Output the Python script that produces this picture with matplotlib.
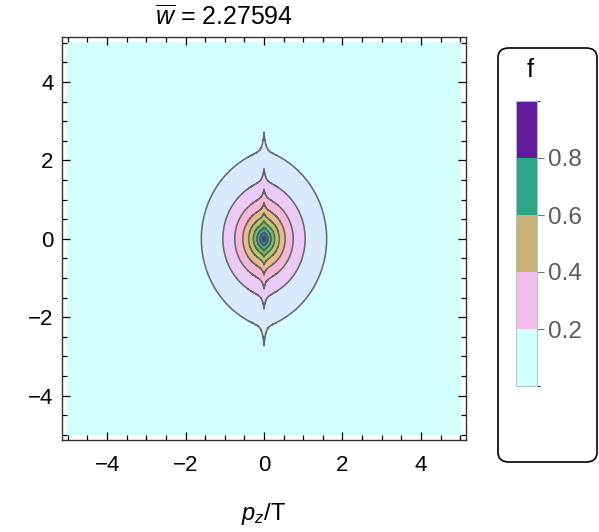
import numpy as np
import matplotlib
matplotlib.use("Agg")
import matplotlib.pyplot as plt
from matplotlib.colors import ListedColormap, BoundaryNorm
from matplotlib.patches import FancyBboxPatch
from matplotlib.ticker import MultipleLocator

plt.rcParams["font.family"] = ["Liberation Sans", "DejaVu Sans"]
plt.rcParams["mathtext.fontset"] = "custom"
plt.rcParams["mathtext.rm"] = "Liberation Sans"
plt.rcParams["mathtext.it"] = "Liberation Sans:italic"

# contour levels and fill colours of the plot
levels = [0.0, 0.1, 0.2, 0.3, 0.4, 0.5, 0.6, 0.7, 0.8, 0.9, 1.0]
band_colors = ["#d3fefd", "#d8eafb", "#ebcbf6", "#f4b7d7", "#e9b98e",
               "#b5c766", "#78be62", "#37b29a", "#2f7fb4", "#5a2a90"]

# legend bar
legend_bounds = [0.0, 0.2, 0.4, 0.6, 0.8, 1.0]
legend_colors = ["#d2fffe", "#f2bdec", "#c8b377", "#2ea789", "#621b9a"]
legend_ticks = [0.2, 0.4, 0.6, 0.8]

w_bar = 2.27594
p_range = (-5, 5)

# shape parameters
A, B, K = 1.30, 1.18, 0.37     # lens widths
S, W = 0.17, 0.05              # needle along pz = 0
P = 0.85

x = np.unique(np.concatenate([np.linspace(*p_range, 801),
                              np.linspace(-0.4, 0.4, 801)]))
y = np.linspace(*p_range, 1001)
X, Y = np.meshgrid(x, y)
E = np.sqrt((A * X) ** 2 + (B * Y) ** 2) + K * np.abs(X)
R = 1 - S * np.exp(-np.abs(X) / W)
F = np.exp(-(E * R) ** P)

fig = plt.figure(figsize=(5.99, 5.32), dpi=100)
ax = fig.add_axes([62 / 599, 92 / 532, 404 / 599, 403 / 532])

ax.contourf(X, Y, F, levels=levels, colors=band_colors)
ax.contour(X, Y, F, levels=levels[1:-1], colors="#555555",
           linewidths=1.15, alpha=0.85)

ax.set_xlim(-5.15, 5.15)
ax.set_ylim(-5.13, 5.15)
ax.xaxis.set_major_locator(MultipleLocator(2))
ax.yaxis.set_major_locator(MultipleLocator(2))
ax.xaxis.set_minor_locator(MultipleLocator(0.5))
ax.yaxis.set_minor_locator(MultipleLocator(0.5))
ax.tick_params(which="both", direction="in", top=True, right=True,
               labelsize=16, width=0.9)
ax.tick_params(which="major", length=6)
ax.tick_params(which="minor", length=3.5)
ax.tick_params(axis="x", pad=11)
ax.tick_params(axis="y", pad=6)
ax.xaxis.set_major_formatter(plt.FuncFormatter(
    lambda v, _: f"{v:.0f}".replace("-", "\u2212")))
ax.yaxis.set_major_formatter(plt.FuncFormatter(
    lambda v, _: f"{v:.0f}".replace("-", "\u2212")))
for sp in ax.spines.values():
    sp.set_linewidth(1.0)
    sp.set_color("#333333")

ax.set_xlabel(r"$p_z$/T", fontsize=17, labelpad=18)
fig.text(224 / 599, 1 - 17 / 532, r"$\overline{w}$ = " + f"{w_bar:.5f}",
         fontsize=18, ha="center", va="center")

# legend box
box = FancyBboxPatch((498 / 599, 70 / 532), 99 / 599, 414 / 532,
                     boxstyle="round,pad=0,rounding_size=0.018",
                     transform=fig.transFigure, facecolor="white",
                     edgecolor="black", linewidth=1.2, zorder=-1)
fig.patches.append(box)
fig.text(530 / 599, 1 - 70 / 532, "f", fontsize=18, ha="center",
         va="center")

cax = fig.add_axes([516 / 599, 146 / 532, 21 / 599, 285 / 532])
cmap = ListedColormap(legend_colors)
norm = BoundaryNorm(legend_bounds, cmap.N)
cb = fig.colorbar(plt.cm.ScalarMappable(norm=norm, cmap=cmap), cax=cax,
                  ticks=legend_ticks)
cb.outline.set_edgecolor("#a9c4c6")
cb.outline.set_linewidth(0.7)
cax.tick_params(length=5, width=0.8, color="#777777", labelsize=17.5,
                labelcolor="#5a5a5a", pad=3)
cax.set_yticklabels([f"{t:.1f}" for t in legend_ticks])

fig.savefig("out.png", dpi=100)
